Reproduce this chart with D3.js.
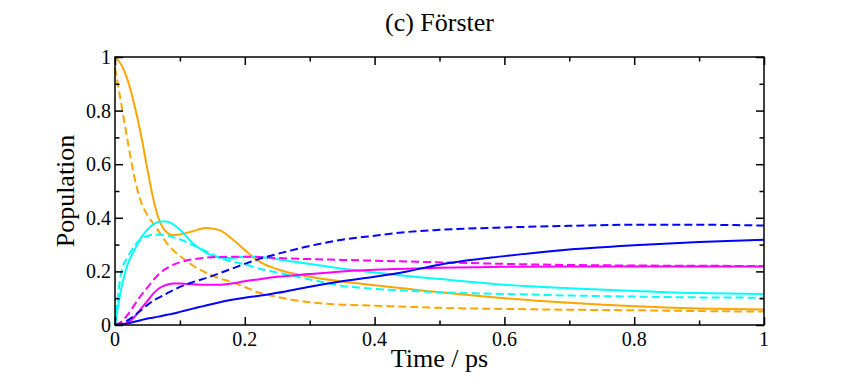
<!DOCTYPE html>
<html>
<head>
<meta charset="utf-8">
<script src="https://cdn.jsdelivr.net/npm/d3@7"></script>
<style>
  html, body { margin: 0; padding: 0; background: #fff; }
  svg { display: block; }
</style>
</head>
<body>
<svg id="chart" width="841" height="382"></svg>
<script>
// ---- data ----
const time = [0, 0.01, 0.02, 0.03, 0.04, 0.05, 0.06, 0.07, 0.08, 0.09, 0.1, 0.12, 0.14, 0.16, 0.18, 0.2, 0.22, 0.25, 0.3, 0.35, 0.4, 0.45, 0.5, 0.6, 0.7, 0.8, 0.9, 1.0];

const orangeSolid = [1.0, 0.97, 0.91, 0.82, 0.71, 0.58, 0.46, 0.38, 0.345, 0.335, 0.338, 0.35, 0.362, 0.355, 0.322, 0.28, 0.24, 0.208, 0.18, 0.162, 0.148, 0.135, 0.122, 0.1, 0.083, 0.07, 0.062, 0.058];
const orangeDashed = [0.96, 0.82, 0.68, 0.55, 0.46, 0.41, 0.375, 0.34, 0.305, 0.278, 0.258, 0.222, 0.195, 0.175, 0.16, 0.142, 0.122, 0.105, 0.085, 0.076, 0.072, 0.068, 0.064, 0.06, 0.057, 0.055, 0.052, 0.05];
const cyanSolid = [0, 0.14, 0.23, 0.28, 0.325, 0.356, 0.377, 0.386, 0.386, 0.375, 0.356, 0.305, 0.27, 0.252, 0.25, 0.255, 0.255, 0.245, 0.228, 0.21, 0.196, 0.183, 0.172, 0.15, 0.137, 0.127, 0.119, 0.116];
const cyanDashed = [0, 0.2, 0.255, 0.295, 0.32, 0.332, 0.337, 0.337, 0.335, 0.327, 0.32, 0.298, 0.276, 0.252, 0.237, 0.226, 0.212, 0.196, 0.17, 0.146, 0.135, 0.128, 0.122, 0.116, 0.11, 0.106, 0.103, 0.102];
const magentaSolid = [0, 0.002, 0.01, 0.03, 0.06, 0.09, 0.12, 0.14, 0.15, 0.155, 0.155, 0.152, 0.15, 0.15, 0.155, 0.163, 0.17, 0.18, 0.19, 0.2, 0.206, 0.21, 0.214, 0.217, 0.218, 0.218, 0.218, 0.218];
const magentaDashed = [0, 0.012, 0.04, 0.075, 0.11, 0.14, 0.17, 0.195, 0.212, 0.225, 0.234, 0.245, 0.251, 0.254, 0.255, 0.255, 0.254, 0.25, 0.246, 0.243, 0.24, 0.237, 0.234, 0.228, 0.224, 0.222, 0.221, 0.22];
const blueSolid = [0, 0.002, 0.006, 0.012, 0.018, 0.024, 0.028, 0.033, 0.038, 0.043, 0.049, 0.061, 0.073, 0.084, 0.094, 0.102, 0.108, 0.12, 0.143, 0.163, 0.18, 0.2, 0.225, 0.257, 0.282, 0.298, 0.31, 0.318];
const blueDashed = [0, 0.005, 0.018, 0.035, 0.055, 0.075, 0.092, 0.105, 0.118, 0.13, 0.142, 0.16, 0.175, 0.192, 0.21, 0.228, 0.245, 0.265, 0.295, 0.318, 0.333, 0.347, 0.355, 0.364, 0.37, 0.374, 0.374, 0.371];

const xTickValues = [0, 0.2, 0.4, 0.6, 0.8, 1];
const xTickLabels = ["0", "0.2", "0.4", "0.6", "0.8", "1"];
const yTickValues = [0, 0.2, 0.4, 0.6, 0.8, 1];
const yTickLabels = ["0", "0.2", "0.4", "0.6", "0.8", "1"];
const minorTicks = [0.1, 0.3, 0.5, 0.7, 0.9];

const titleText = "(c) Förster";
const xLabelText = "Time / ps";
const yLabelText = "Population";

const series = [
  { values: orangeSolid, color: "#FFA500", dashed: false },
  { values: orangeDashed, color: "#FFA500", dashed: true },
  { values: cyanSolid, color: "#00FFFF", dashed: false },
  { values: cyanDashed, color: "#00FFFF", dashed: true },
  { values: magentaSolid, color: "#FF00FF", dashed: false },
  { values: magentaDashed, color: "#FF00FF", dashed: true },
  { values: blueSolid, color: "#0000FF", dashed: false },
  { values: blueDashed, color: "#0000FF", dashed: true }
];

const FONT = "'Liberation Serif', 'DejaVu Serif', Times, serif";

// ---- layout ----
const L = 115, R = 764, T = 57, B = 325;
const svg = d3.select("#chart");
const x = d3.scaleLinear().domain([0, 1]).range([L, R]);
const y = d3.scaleLinear().domain([0, 1]).range([B, T]);

// lines
const line = d3.line()
  .x((d, i) => x(time[i]))
  .y(d => y(d))
  .curve(d3.curveMonotoneX);

svg.append("g").selectAll("path")
  .data(series)
  .join("path")
  .attr("d", d => line(d.values))
  .attr("fill", "none")
  .attr("stroke", d => d.color)
  .attr("stroke-width", 2)
  .attr("stroke-dasharray", d => d.dashed ? "8,4" : null);

// axes with inward ticks
function styleAxis(g) {
  g.select(".domain").remove();
  g.selectAll("line").attr("stroke", "#000").attr("stroke-width", 1.5);
  g.selectAll("text").remove();
}
svg.append("g").attr("transform", `translate(0,${B})`)
  .call(d3.axisTop(x).tickValues(xTickValues).tickSize(8)).call(styleAxis);
svg.append("g").attr("transform", `translate(0,${B})`)
  .call(d3.axisTop(x).tickValues(minorTicks).tickSize(4.5)).call(styleAxis);
svg.append("g").attr("transform", `translate(0,${T})`)
  .call(d3.axisBottom(x).tickValues(xTickValues).tickSize(8)).call(styleAxis);
svg.append("g").attr("transform", `translate(0,${T})`)
  .call(d3.axisBottom(x).tickValues(minorTicks).tickSize(4.5)).call(styleAxis);
svg.append("g").attr("transform", `translate(${L},0)`)
  .call(d3.axisRight(y).tickValues(yTickValues).tickSize(8)).call(styleAxis);
svg.append("g").attr("transform", `translate(${L},0)`)
  .call(d3.axisRight(y).tickValues(minorTicks).tickSize(4.5)).call(styleAxis);
svg.append("g").attr("transform", `translate(${R},0)`)
  .call(d3.axisLeft(y).tickValues(yTickValues).tickSize(8)).call(styleAxis);
svg.append("g").attr("transform", `translate(${R},0)`)
  .call(d3.axisLeft(y).tickValues(minorTicks).tickSize(4.5)).call(styleAxis);

// frame
svg.append("rect")
  .attr("x", L).attr("y", T).attr("width", R - L).attr("height", B - T)
  .attr("fill", "none").attr("stroke", "#000").attr("stroke-width", 1.5);

// tick labels
svg.append("g").selectAll("text")
  .data(xTickValues)
  .join("text")
  .attr("x", d => x(d))
  .attr("y", 346)
  .attr("text-anchor", "middle")
  .attr("font-family", FONT)
  .attr("font-size", 20)
  .attr("fill", "#000")
  .text((d, i) => xTickLabels[i]);

svg.append("g").selectAll("text")
  .data(yTickValues)
  .join("text")
  .attr("x", 111)
  .attr("y", d => y(d))
  .attr("dy", "0.35em")
  .attr("text-anchor", "end")
  .attr("font-family", FONT)
  .attr("font-size", 20)
  .attr("fill", "#000")
  .text((d, i) => yTickLabels[i]);

// title & labels
svg.append("text")
  .attr("x", (L + R) / 2).attr("y", 31)
  .attr("text-anchor", "middle").attr("font-size", 26)
  .attr("font-family", FONT).attr("fill", "#000")
  .text(titleText);

svg.append("text")
  .attr("x", (L + R) / 2).attr("y", 367)
  .attr("text-anchor", "middle").attr("font-size", 26)
  .attr("font-family", FONT).attr("fill", "#000")
  .text(xLabelText);

svg.append("text")
  .attr("transform", `translate(74,${(T + B) / 2}) rotate(-90)`)
  .attr("text-anchor", "middle").attr("font-size", 26)
  .attr("font-family", FONT).attr("fill", "#000")
  .text(yLabelText);
</script>
</body>
</html>
